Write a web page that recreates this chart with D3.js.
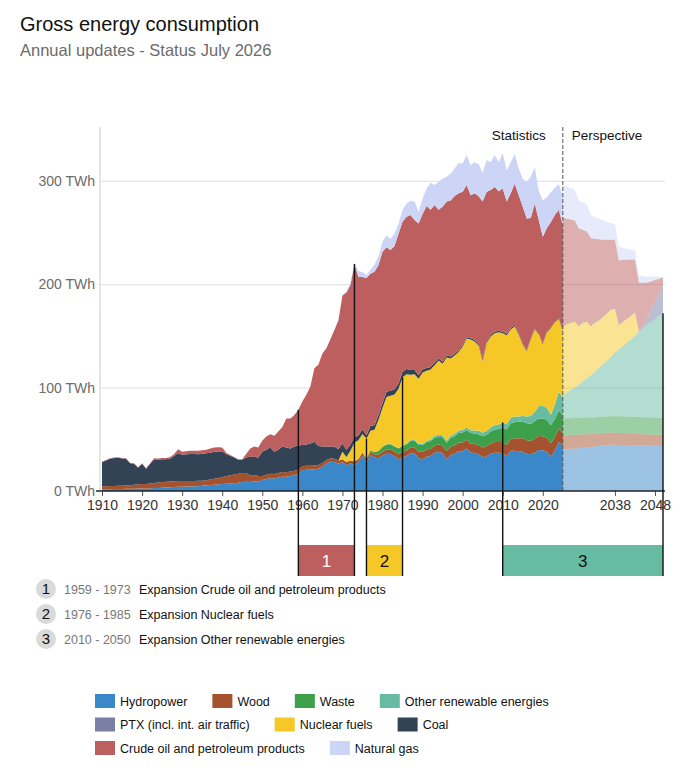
<!DOCTYPE html>
<html><head><meta charset="utf-8">
<script src="https://cdn.jsdelivr.net/npm/d3@7"></script>
<style>
body{margin:0;background:#fff;}
text{font-family:"Liberation Sans",Arial,Helvetica,sans-serif;}
</style>
</head><body>
<svg id="chart" width="682" height="771"></svg>
<script>
// ---------------- DATA ----------------
const statFirstYear = 1910, statLastYear = 2025;
const perspFirstYear = 2025, perspLastYear = 2050;

const seriesKeys   = ["hydro","wood","waste","other","ptx","nuclear","coal","oil","gas"];
const seriesLabels = ["Hydropower","Wood","Waste","Other renewable energies","PTX (incl. int. air traffic)","Nuclear fuels","Coal","Crude oil and petroleum products","Natural gas"];
const seriesColors = ["#3a87c9","#a5532f","#3c9f4a","#67bba2","#7a7fa3","#f5c828","#334356","#bd5f5f","#cdd5f7"];

// Statistics 1910-2025 (TWh)
const statHydro = [
 1.6,1.7,1.8,1.9,2.0,2.0,2.1,2.2,2.2,2.3,
 2.3,2.2,2.5,2.8,3.0,3.2,3.4,3.6,3.9,4.2,
 4.2,4.3,4.4,4.5,4.7,5.0,5.3,5.7,6.0,6.4,
 6.8,7.0,7.2,7.5,8.0,8.6,9.0,8.6,9.5,9.0,
 10.6,11.5,12.3,12.0,13.0,13.9,13.8,14.5,15.5,16.5,
 20.0,20.5,20.5,21.0,21.5,23.5,26.5,28.4,28.0,26.5,
 27.7,25.0,26.5,25.5,28.0,34.0,27.4,34.8,32.5,31.6,
 34.0,36.0,35.8,33.5,30.6,32.5,33.8,36.4,36.4,31.6,
 30.6,33.2,33.8,37.0,38.0,36.4,30.6,34.8,36.0,38.5,
 38.5,41.0,37.5,36.5,35.5,32.5,33.5,36.0,37.0,37.0,
 36.4,33.5,39.0,39.0,38.5,38.0,36.0,35.5,37.0,39.6,
 39.5,38.0,33.2,39.0,47.5,43.0];
const statWood = [
 3.0,3.0,3.0,3.0,3.0,3.0,3.2,3.4,3.8,4.2,
 4.5,4.5,4.8,5.0,5.2,5.5,5.5,5.5,5.5,5.5,
 5.5,5.4,5.3,5.2,5.1,5.0,5.2,5.5,5.8,6.2,
 6.6,7.5,8.0,8.5,8.7,8.7,8.5,6.5,6.0,5.5,
 4.0,4.2,4.4,4.5,4.5,4.5,4.4,4.3,4.2,4.2,
 4.0,3.9,3.8,3.7,3.6,3.5,3.4,3.3,3.2,3.0,
 3.0,3.0,3.0,3.0,3.0,3.0,3.0,3.0,3.0,3.5,
 4.0,4.0,4.5,4.5,5.0,5.5,5.5,6.0,6.0,6.5,
 7.0,7.0,7.0,7.0,7.0,7.5,8.0,8.0,8.0,8.5,
 8.5,8.5,8.5,9.0,9.0,9.5,10.0,10.0,10.5,10.5,
 11.0,11.0,11.5,12.0,12.5,13.0,13.0,13.0,13.5,13.5,
 13.5,13.5,13.0,13.0,13.0,13.0];
const statWaste = [
 0,0,0,0,0,0,0,0,0,0,
 0,0,0,0,0,0,0,0,0,0,
 0,0,0,0,0,0,0,0,0,0,
 0,0,0,0,0,0,0,0,0,0,
 0,0,0,0,0,0,0,0,0,0,
 0,0,0,0,0,0,0,0,0,0,
 0,0,0,0,0,0.5,1.0,1.5,2.0,3.5,
 4.5,5.0,5.0,5.0,5.5,5.5,6.0,6.0,6.5,6.5,
 7.0,7.0,7.5,7.5,7.5,8.0,8.0,8.5,9.0,9.0,
 9.5,9.5,10.0,10.0,10.5,11.0,11.0,11.5,12.0,12.5,
 14.0,15.0,15.0,15.5,16.0,16.0,16.5,16.5,17.0,17.0,
 17.0,17.5,17.5,17.5,17.5,17.5];
const statOther = [
 0,0,0,0,0,0,0,0,0,0,
 0,0,0,0,0,0,0,0,0,0,
 0,0,0,0,0,0,0,0,0,0,
 0,0,0,0,0,0,0,0,0,0,
 0,0,0,0,0,0,0,0,0,0,
 0,0,0,0,0,0,0,0,0,0,
 0,0,0,0,0,0,0,0,0,0.2,
 0.3,0.3,0.4,0.4,0.5,0.5,0.6,0.7,0.8,0.9,
 1.0,1.2,1.4,1.6,1.8,2.0,2.1,2.2,2.4,2.5,
 2.6,2.7,2.8,3.0,3.2,3.4,3.6,3.8,4.0,4.3,
 4.8,5.0,5.3,5.6,5.0,5.5,6.5,7.5,9.0,12.0,
 12.5,11.5,10.0,14.0,18.0,17.0];
const statNuclear = [
 0,0,0,0,0,0,0,0,0,0,
 0,0,0,0,0,0,0,0,0,0,
 0,0,0,0,0,0,0,0,0,0,
 0,0,0,0,0,0,0,0,0,0,
 0,0,0,0,0,0,0,0,0,0,
 0,0,0,0,0,0,0,0,0,0,
 7.3,5.0,9.5,18.5,18.0,17.6,19.1,19.0,21.8,30.1,
 37.5,45.7,46.3,49.9,57.4,66.0,67.1,63.4,63.3,63.0,
 69.0,67.8,67.7,68.5,71.8,69.1,80.3,74.7,75.6,75.9,
 80.4,85.8,87.7,86.0,82.3,69.1,85.0,88.2,89.0,89.2,
 86.3,86.1,85.3,87.1,79.3,69.1,63.3,74.2,80.0,69.5,
 59.5,72.7,83.6,79.6,70.4,63.9];
const statCoal = [
 23.3,24.8,26.3,26.9,27.1,26.5,25.8,21.3,20.3,15.9,
 19.5,14.7,18.7,22.8,22.3,22.1,21.8,22.4,24.4,27.1,
 25.3,25.8,26.1,26.0,25.8,26.0,26.0,25.8,26.2,25.6,
 25.1,21.0,18.8,16.5,13.6,13.0,15.0,18.4,17.5,18.0,
 23.4,24.3,25.3,21.5,22.5,24.6,23.8,22.2,23.3,23.3,
 20.5,20.6,21.7,23.0,18.4,16.0,13.1,11.3,11.8,10.8,
 8.0,7.0,6.0,5.0,5.0,4.5,3.5,4.5,4.5,4.5,
 4.5,5.0,5.0,5.0,5.0,5.4,5.0,4.5,4.0,3.5,
 3.0,2.8,2.6,2.4,2.2,2.0,2.0,1.8,1.7,1.6,
 1.5,1.5,1.5,1.5,1.5,1.5,1.5,1.5,1.5,1.5,
 1.5,1.4,1.4,1.3,1.2,1.2,1.1,1.0,1.0,0.9,
 0.8,0.8,0.7,0.7,0.6,0.6];
const statOil = [
 0.5,0.5,0.5,0.5,0.5,0.5,0.5,0.5,0.5,0.5,
 0.5,0.5,0.8,1.0,1.0,1.2,1.3,1.5,2.0,3.5,
 3.0,3.0,3.2,3.3,3.4,3.5,3.5,4.0,4.0,4.0,
 3.5,1.5,0.8,0.5,0.3,0.3,3.5,7.5,10.0,9.5,
 10.5,12.6,13.0,15.5,17.5,19.0,28.0,29.0,30.5,34.5,
 42.0,48.0,55.0,71.0,78.5,90.0,95.0,103.8,112.8,124.9,
 143.0,152.0,154.5,167.5,153.0,147.4,152.0,147.2,148.2,145.1,
 146.7,139.8,136.0,138.7,145.0,145.1,147.3,150.0,145.0,146.8,
 150.4,156.6,152.0,152.6,143.7,150.0,149.0,151.0,152.6,152.0,
 148.5,147.0,138.0,142.0,143.0,153.0,144.9,140.0,140.0,135.0,
 138.6,128.0,130.5,137.0,133.5,132.2,127.2,116.3,120.5,109.5,
 103.2,100.0,102.0,103.2,105.0,102.0];
const statGas = [
 0,0,0,0,0,0,0,0,0,0,
 0,0,0,0,0,0,0,0,0,0,
 0,0,0,0,0,0,0,0,0,0,
 0,0,0,0,0,0,0,0,0,0,
 0,0,0,0,0,0,0,0,0,0,
 0,0,0,0,0,0,0,0,0,0.3,
 0.7,1.0,1.5,1.5,5.6,4.7,3.0,4.0,7.0,8.5,
 9.5,11.2,11.0,12.0,9.7,11.2,12.7,13.7,18.0,11.2,
 15.0,17.0,26.0,19.4,27.0,27.0,24.0,26.0,26.7,29.0,
 27.5,29.0,29.0,30.0,31.0,28.0,30.5,27.0,31.0,28.0,
 34.4,30.0,30.0,28.5,26.0,27.0,35.4,40.0,35.0,28.0,
 35.0,30.0,29.0,26.0,25.0,28.0];

// Perspective 2025-2050 (TWh)
const perspHydro   = [39.8,40.2,40.6,41.0,41.4,41.8,42.2,42.6,43.0,43.5,44.0,44.5,44.7,44.7,44.6,44.5,44.4,44.3,44.2,44.1,44.0,43.9,43.8,43.7,43.7,43.7];
const perspWood    = [13.9,13.8,13.6,13.4,13.2,13.0,12.8,12.6,12.4,12.2,12.0,11.9,11.8,11.7,11.6,11.5,11.4,11.3,11.2,11.1,11.0,10.9,10.8,10.7,10.6,10.6];
const perspWaste   = [16.3,16.3,16.2,16.2,16.1,16.1,16.0,16.0,15.9,15.9,15.8,15.8,15.8,15.9,16.0,16.1,16.2,16.3,16.3,16.4,16.4,16.5,16.5,16.5,16.5,16.5];
const perspOther   = [22.5,24.7,27.3,29.4,32.3,35.1,38.0,40.8,43.7,47.4,50.7,53.8,57.7,61.7,64.8,67.9,71.7,74.9,78.3,82.3,85.6,89.2,92.4,95.1,98.7,101.2];
const perspPtx     = [0,0,0,0,0,0,0,0,0,0,0,0,0,0,0,0,0,0,0,0.3,3.2,6.7,11.5,16.8,21.1,26.9];
const perspNuclear = [66.1,66.6,64.9,63.6,56.6,56.6,54.6,47.6,47.6,46.2,46.1,45.6,45.6,42.6,23.6,23.6,22.9,22.8,22.6,0,0,0,0,0,0,0];
const perspCoal    = [0.4,0.4,0.4,0.4,0.4,0.4,0.4,0.4,0.4,0.4,0.4,0.4,0.4,0.4,0.4,0.4,0.4,0.4,0.4,0,0,0,0,0,0,0];
const perspOil     = [105.7,101.5,99.5,97.5,94.0,89.5,87.0,84.5,81.0,77.9,74.0,71.0,67.0,66.0,62.0,59.3,56.6,54.0,51.0,47.3,41.3,34.5,27.5,21.2,14.7,7.6];
const perspGas     = [31.3,30.9,30.5,29.5,27.0,26.5,26.0,22.5,21.0,20.0,18.6,17.5,16.0,15.0,13.0,11.7,10.7,9.5,8.8,7.5,6.0,5.8,5.0,3.5,2.0,0.5];

// Axes
const xTickYears = [1910,1920,1930,1940,1950,1960,1970,1980,1990,2000,2010,2020,2038,2048];
const yTickValues = [0,100,200,300];

// Expansion periods
const periodStart  = [1959,1976,2010];
const periodEnd    = [1973,1985,2050];
const periodSeries = ["oil","nuclear","other"];
const periodText   = ["Expansion Crude oil and petroleum products","Expansion Nuclear fuels","Expansion Other renewable energies"];

// ---------------- BUILD TABLES ----------------
const statSeries = {hydro:statHydro, wood:statWood, waste:statWaste, other:statOther, nuclear:statNuclear, coal:statCoal, oil:statOil, gas:statGas};
const perspSeries = {hydro:perspHydro, wood:perspWood, waste:perspWaste, other:perspOther, ptx:perspPtx, nuclear:perspNuclear, coal:perspCoal, oil:perspOil, gas:perspGas};
const statKeys = seriesKeys.filter(k => k in statSeries);
const statRows = statHydro.map((_, i) => {
  const r = {year: statFirstYear + i};
  statKeys.forEach(k => r[k] = statSeries[k][i]);
  return r;
});
const perspRows = perspHydro.map((_, i) => {
  const r = {year: perspFirstYear + i};
  seriesKeys.forEach(k => r[k] = perspSeries[k][i]);
  return r;
});
const colorOf = d3.scaleOrdinal().domain(seriesKeys).range(seriesColors);

// ---------------- DRAW ----------------
const svg = d3.select("#chart");
const x = d3.scaleLinear().domain([1910, 2050]).range([102, 663]);
const y = d3.scaleLinear().domain([0, 300]).range([491, 180.8]);
const yTop = 127;

svg.append("text").attr("x", 20).attr("y", 31).attr("font-size", 20).attr("fill", "#111").text("Gross energy consumption");
svg.append("text").attr("x", 20).attr("y", 56).attr("font-size", 16.5).attr("fill", "#6b6b6b").text("Annual updates - Status July 2026");

// grid
const grid = svg.append("g").attr("transform", "translate(100,0)")
  .call(d3.axisLeft(y).tickValues(yTickValues.filter(v => v > 0)).tickSize(-565).tickFormat(""));
grid.select(".domain").remove();
grid.selectAll("line").attr("stroke", "#dedede");
svg.append("line").attr("x1", 100).attr("x2", 100).attr("y1", yTop).attr("y2", y(0))
  .attr("stroke", "#dcdcdc").attr("stroke-width", 1.5);

// y labels
const yAxis = svg.append("g").attr("transform", "translate(100,0)")
  .call(d3.axisLeft(y).tickValues(yTickValues).tickSize(0).tickPadding(5).tickFormat(d => d + " TWh"));
yAxis.select(".domain").remove();
yAxis.selectAll("text").attr("font-size", 14).attr("fill", "#6b6b6b");

// stacks
const area = d3.area().x(d => x(d.data.year)).y0(d => y(d[0])).y1(d => y(d[1]));
const statStack = d3.stack().keys(statKeys)(statRows);
const perspStack = d3.stack().keys(seriesKeys)(perspRows);

svg.append("g").selectAll("path").data(statStack).join("path")
  .attr("d", area).attr("fill", d => colorOf(d.key));
svg.append("g").selectAll("path").data(perspStack).join("path")
  .attr("d", area).attr("fill", d => colorOf(d.key)).attr("fill-opacity", 0.5);

// divider
const xDiv = x(perspFirstYear);
svg.append("line").attr("x1", xDiv).attr("x2", xDiv).attr("y1", yTop).attr("y2", y(0))
  .attr("stroke", "#555").attr("stroke-width", 1).attr("stroke-dasharray", "4,2");
svg.append("text").attr("x", xDiv - 17).attr("y", 140).attr("text-anchor", "end").attr("font-size", 13.5).attr("fill", "#111").text("Statistics");
svg.append("text").attr("x", xDiv + 9).attr("y", 140).attr("font-size", 13.5).attr("fill", "#111").text("Perspective");

// x axis
const xAxis = svg.append("g").attr("transform", `translate(0,${y(0)})`)
  .call(d3.axisBottom(x).tickValues(xTickYears).tickSize(5).tickSizeOuter(0).tickPadding(4).tickFormat(d3.format("d")));
xAxis.select(".domain").remove();
xAxis.selectAll("line").attr("stroke", "#555");
xAxis.selectAll("text").attr("font-size", 14).attr("fill", "#333");
svg.append("line").attr("x1", 96).attr("x2", 665).attr("y1", y(0)).attr("y2", y(0))
  .attr("stroke", "#222").attr("stroke-width", 1.5);

// expansion periods
function topOf(year, key) {
  const useStat = year <= statLastYear && statKeys.includes(key);
  const stack = useStat ? statStack : perspStack;
  const first = useStat ? statFirstYear : perspFirstYear;
  const layer = stack.find(s => s.key === key);
  return layer[year - first][1];
}
const bandY0 = 545, bandY1 = 576;
periodStart.forEach((s, i) => {
  const e = periodEnd[i], key = periodSeries[i];
  svg.append("rect").attr("x", x(s)).attr("y", bandY0).attr("width", x(e) - x(s)).attr("height", bandY1 - bandY0)
    .attr("fill", colorOf(key));
  svg.append("text").attr("x", (x(s) + x(e)) / 2).attr("y", bandY0 + 22).attr("text-anchor", "middle")
    .attr("font-size", 17).attr("fill", i === 0 ? "#fff" : "#111").text(i + 1);
  [s, e].forEach(yr => {
    svg.append("line").attr("x1", x(yr)).attr("x2", x(yr)).attr("y1", y(topOf(yr, key))).attr("y2", bandY1)
      .attr("stroke", "#111").attr("stroke-width", 1.4);
  });
  // note list
  const ny = 589 + i * 25;
  svg.append("circle").attr("cx", 46).attr("cy", ny).attr("r", 10).attr("fill", "#dadada");
  svg.append("text").attr("x", 46).attr("y", ny + 5).attr("text-anchor", "middle").attr("font-size", 15).attr("fill", "#111").text(i + 1);
  svg.append("text").attr("x", 64).attr("y", ny + 4.5).attr("font-size", 12.5).attr("fill", "#777").text(`${s} - ${e}`);
  svg.append("text").attr("x", 139).attr("y", ny + 4.5).attr("font-size", 12.5).attr("fill", "#111").text(periodText[i]);
});

// legend
const legend = svg.append("g");
let lx = 95, ly = 701;
seriesKeys.forEach((k, i) => {
  const g = legend.append("g");
  const t = g.append("text").attr("font-size", 12.5).attr("fill", "#111").text(seriesLabels[i]);
  const w = t.node().getComputedTextLength();
  if (lx + 25 + w > 600) { lx = 95; ly += 23.5; }
  g.append("rect").attr("x", lx).attr("y", ly - 7).attr("width", 20).attr("height", 14).attr("fill", seriesColors[i]);
  t.attr("x", lx + 25).attr("y", ly + 4.5);
  lx += 25 + w + 25;
});
</script>
</body></html>
